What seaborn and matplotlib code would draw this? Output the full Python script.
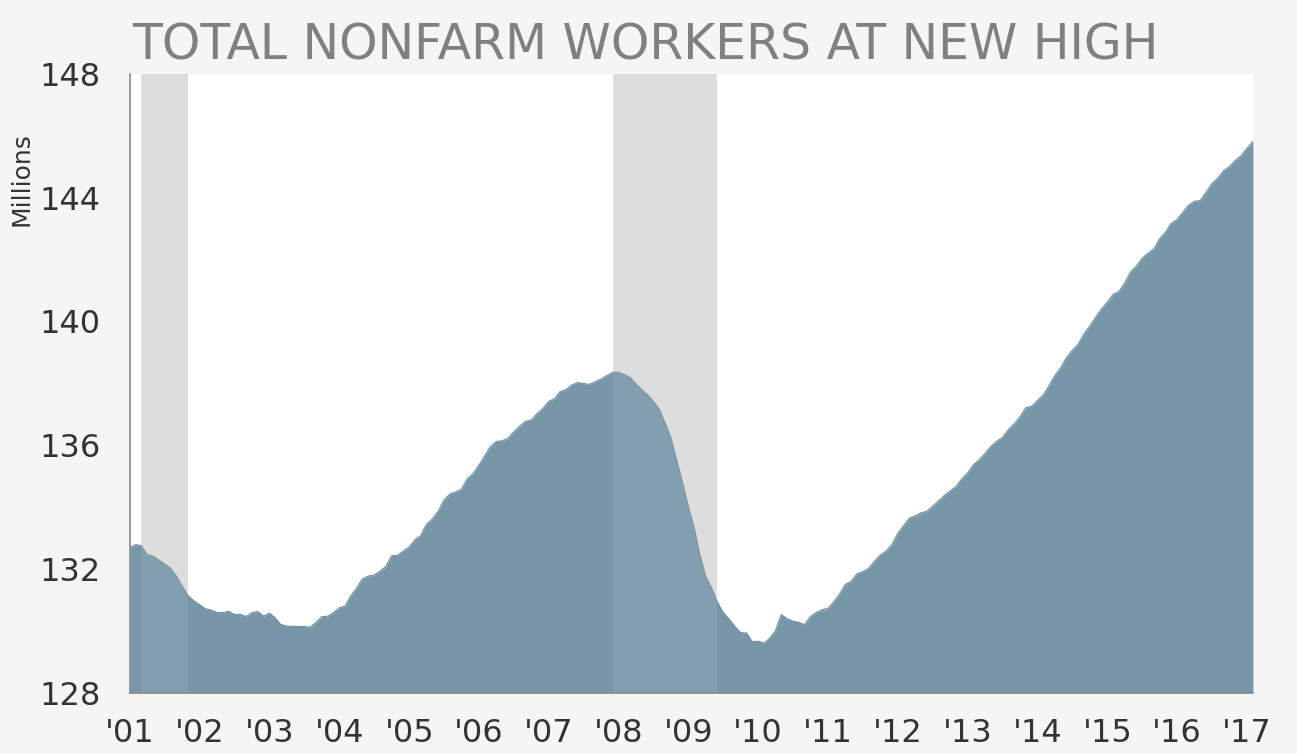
import pandas as pd
import numpy as np
import matplotlib
matplotlib.use("Agg")
import matplotlib.pyplot as plt
import matplotlib.dates as mdates
import seaborn as sns

# Total nonfarm payrolls, millions, monthly from Jan 2001
start_month = "2001-01-01"
y2001 = [132.698, 132.789, 132.747, 132.463, 132.419, 132.287, 132.163, 132.021, 131.772, 131.451, 131.137, 130.975]
y2002 = [130.845, 130.711, 130.674, 130.595, 130.588, 130.632, 130.530, 130.533, 130.465, 130.589, 130.620, 130.475]
y2003 = [130.571, 130.415, 130.205, 130.157, 130.142, 130.139, 130.139, 130.118, 130.268, 130.457, 130.473, 130.584]
y2004 = [130.744, 130.804, 131.133, 131.385, 131.684, 131.770, 131.804, 131.927, 132.086, 132.428, 132.443, 132.579]
y2005 = [132.713, 132.953, 133.070, 133.437, 133.612, 133.860, 134.225, 134.420, 134.490, 134.575, 134.919, 135.080]
y2006 = [135.357, 135.672, 135.950, 136.118, 136.143, 136.215, 136.425, 136.609, 136.772, 136.811, 137.023, 137.185]
y2007 = [137.420, 137.507, 137.735, 137.795, 137.946, 138.027, 137.995, 137.965, 138.051, 138.138, 138.254, 138.350]
y2008 = [138.365, 138.279, 138.199, 137.985, 137.803, 137.631, 137.421, 137.162, 136.710, 136.236, 135.500, 134.794]
y2009 = [133.997, 133.297, 132.466, 131.765, 131.402, 130.932, 130.599, 130.385, 130.141, 129.940, 129.931, 129.648]
y2010 = [129.666, 129.602, 129.760, 130.001, 130.529, 130.389, 130.316, 130.273, 130.202, 130.463, 130.595, 130.681]
y2011 = [130.727, 130.945, 131.177, 131.498, 131.596, 131.841, 131.910, 132.019, 132.250, 132.448, 132.582, 132.786]
y2012 = [133.150, 133.409, 133.641, 133.715, 133.813, 133.868, 134.027, 134.199, 134.378, 134.525, 134.667, 134.911]
y2013 = [135.108, 135.380, 135.522, 135.730, 135.956, 136.126, 136.245, 136.501, 136.690, 136.916, 137.212, 137.257]
y2014 = [137.446, 137.634, 137.911, 138.248, 138.493, 138.827, 139.061, 139.256, 139.600, 139.847, 140.139, 140.402]
y2015 = [140.621, 140.883, 140.954, 141.227, 141.586, 141.781, 142.033, 142.203, 142.341, 142.667, 142.879, 143.168]
y2016 = [143.295, 143.533, 143.757, 143.883, 143.907, 144.179, 144.454, 144.630, 144.878, 145.002, 145.206, 145.361]
y2017 = [145.599, 145.818]

recessions = [("2001-03-01", "2001-11-01"), ("2007-12-01", "2009-06-01")]
y_ticks = [128, 132, 136, 140, 144, 148]
title = "TOTAL NONFARM WORKERS AT NEW HIGH"
y_label = "Millions"

values = (y2001 + y2002 + y2003 + y2004 + y2005 + y2006 + y2007 + y2008 + y2009
          + y2010 + y2011 + y2012 + y2013 + y2014 + y2015 + y2016 + y2017)
df = pd.DataFrame({
    "date": pd.date_range(start_month, periods=len(values), freq="MS"),
    "workers": values,
})

sns.set_style("white")
plt.rcParams["font.family"] = ["DejaVu Sans"]

fill_color = "#7796a8"
bg = "#f5f5f5"

fig = plt.figure(figsize=(12.97, 7.54), dpi=100, facecolor=bg)
ax = fig.add_axes([0.1002, 0.0813, 0.8658, 0.8206])
ax.set_facecolor("white")

# recession bands behind the area, plus a faint veil on top of it
for s, e in recessions:
    ax.axvspan(pd.Timestamp(s), pd.Timestamp(e), color="#dddddd", lw=0, zorder=0)
    ax.axvspan(pd.Timestamp(s), pd.Timestamp(e), color="#dddddd", alpha=0.12, lw=0, zorder=3)

ax.fill_between(df["date"], df["workers"], 128, color=fill_color, lw=0, zorder=1)
sns.lineplot(data=df, x="date", y="workers", ax=ax, color="#6f8ea1", lw=0.8, zorder=2)

ax.set_ylim(128, 148)
ax.set_xlim(df["date"].iloc[0], df["date"].iloc[-1])
ax.set_yticks(y_ticks)
ax.xaxis.set_major_locator(mdates.YearLocator())
ax.xaxis.set_major_formatter(mdates.DateFormatter("'%y"))

for side in ["top", "right"]:
    ax.spines[side].set_visible(False)
for side in ["left", "bottom"]:
    ax.spines[side].set_color("#888888")
    ax.spines[side].set_linewidth(1.2)
    ax.spines[side].set_zorder(4)

ax.tick_params(axis="both", which="major", direction="out", length=9, width=1.2,
               color="#888888", labelsize=23, labelcolor="#333333")
ax.tick_params(axis="y", pad=12)
ax.tick_params(axis="x", pad=9)

ax.set_xlabel("")
ax.set_ylabel(y_label, fontsize=18, color="#333333")
ax.yaxis.set_label_coords(-0.086, 0.83)

fig.text(0.102, 0.94, title, fontsize=35.2, color="#808080", ha="left", va="center")

fig.savefig("out.png", dpi=100, facecolor=bg)
